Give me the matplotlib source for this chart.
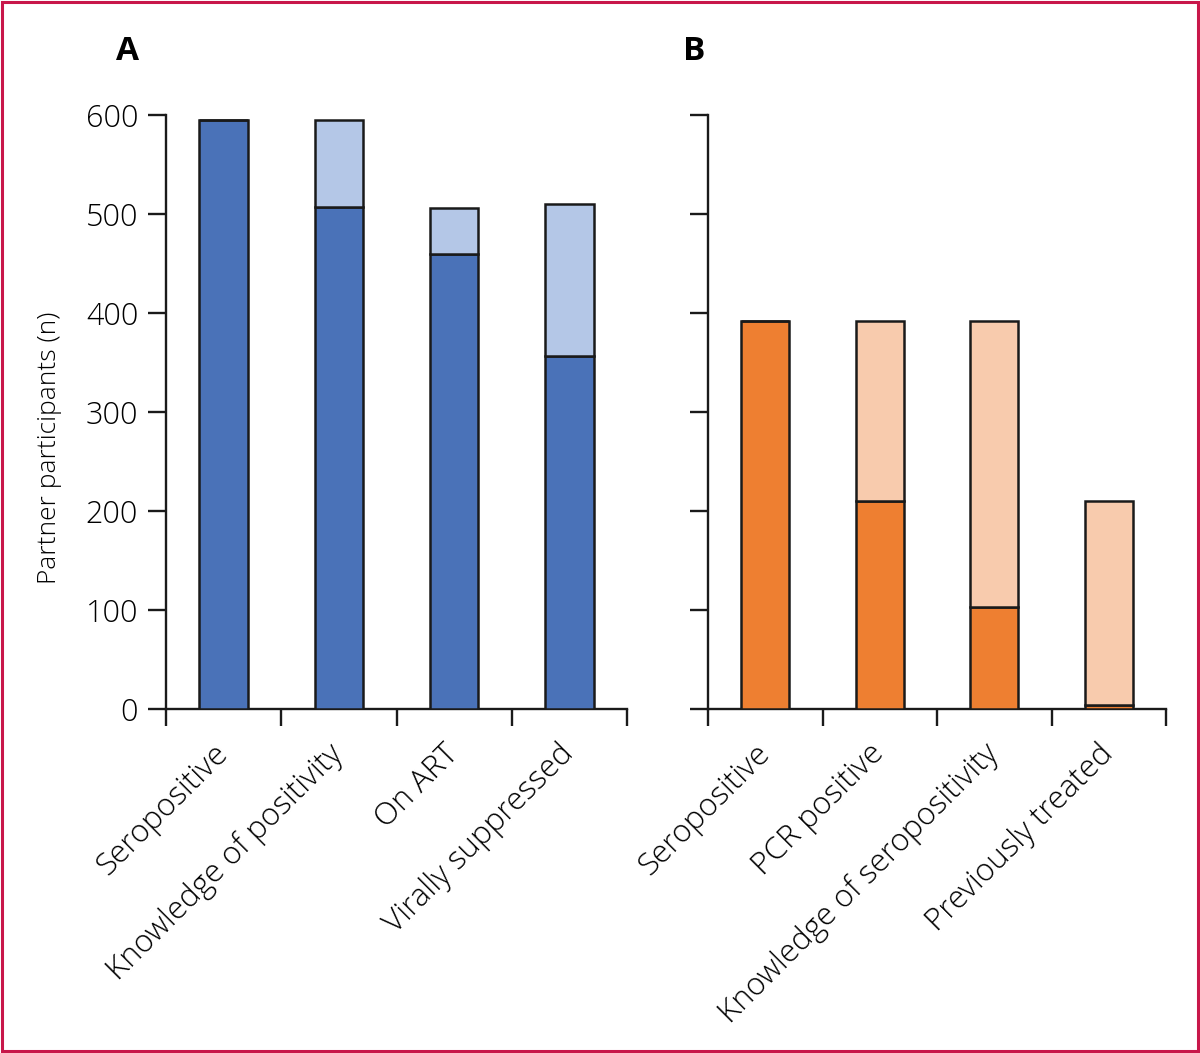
import matplotlib
matplotlib.use("Agg")
import matplotlib.pyplot as plt
from matplotlib.patches import Rectangle
import numpy as np

plt.rcParams['font.family'] = ['Open Sans', 'DejaVu Sans']

# Panel A data
cats_a = ["Seropositive", "Knowledge of positivity", "On ART", "Virally suppressed"]
total_a = [595, 595, 506, 510]
achieved_a = [595, 507, 460, 357]

# Panel B data
cats_b = ["Seropositive", "PCR positive", "Knowledge of seropositivity", "Previously treated"]
total_b = [392, 392, 392, 210]
achieved_b = [392, 210, 103, 4]

yticks = [0, 100, 200, 300, 400, 500, 600]

dark_blue = "#4a72b8"
light_blue = "#b4c7e7"
dark_orange = "#ee7f31"
light_orange = "#f8cbad"
edge = "#1a1a1a"
FW = "light"

fig = plt.figure(figsize=(12, 10.53), dpi=100)

def draw(ax, cats, total, achieved, dark, light, show_labels):
    x = np.arange(len(cats))
    rest = [t - a for t, a in zip(total, achieved)]
    ax.bar(x, achieved, width=0.42, color=dark, edgecolor=edge, linewidth=1.8, zorder=3)
    ax.bar(x, rest, width=0.42, bottom=achieved, color=light, edgecolor=edge, linewidth=1.8, zorder=3)
    ax.set_xlim(-0.5, len(cats) - 0.5)
    ax.set_ylim(0, 600)
    for s in ["top", "right"]:
        ax.spines[s].set_visible(False)
    for s in ["left", "bottom"]:
        ax.spines[s].set_linewidth(1.7)
        ax.spines[s].set_color(edge)
    ax.spines["left"].set_bounds(0, 600)
    ax.set_yticks(yticks)
    if show_labels:
        ax.set_yticklabels([str(v) for v in yticks], fontsize=22, fontweight=FW)
    else:
        ax.set_yticklabels([])
    ax.tick_params(axis="y", length=13, width=1.7, color=edge, pad=7)
    # category boundary ticks
    ax.set_xticks(np.arange(len(cats) + 1) - 0.5)
    ax.set_xticklabels([])
    ax.tick_params(axis="x", which="major", length=12, width=1.7, color=edge)
    ax.set_xticks(x, minor=True)
    ax.set_xticklabels(cats, minor=True, rotation=45, ha="right", va="center",
                       rotation_mode="anchor", fontsize=22.5, fontweight=FW)
    ax.tick_params(axis="x", which="minor", length=0, pad=29)
    ax.patch.set_visible(False)

ax_a = fig.add_axes([166/1200, 1 - 709/1053, 461/1200, 594/1053])
draw(ax_a, cats_a, total_a, achieved_a, dark_blue, light_blue, True)
ax_a.set_ylabel("Partner participants (n)", fontsize=19, fontweight=FW)
ax_a.yaxis.set_label_coords(-0.225, 0.44)

ax_b = fig.add_axes([708/1200, 1 - 709/1053, 458/1200, 594/1053])
draw(ax_b, cats_b, total_b, achieved_b, dark_orange, light_orange, False)

fig.text(127/1200, 1 - 52/1053, "A", fontsize=24, fontweight="bold", ha="center", va="center")
fig.text(694/1200, 1 - 52/1053, "B", fontsize=24, fontweight="bold", ha="center", va="center")

fig.patches.append(Rectangle((0.0015, 0.0017), 0.997, 0.9966, transform=fig.transFigure,
                             fill=False, edgecolor="#c8174a", linewidth=2.2))

fig.savefig("out.png", dpi=100)
